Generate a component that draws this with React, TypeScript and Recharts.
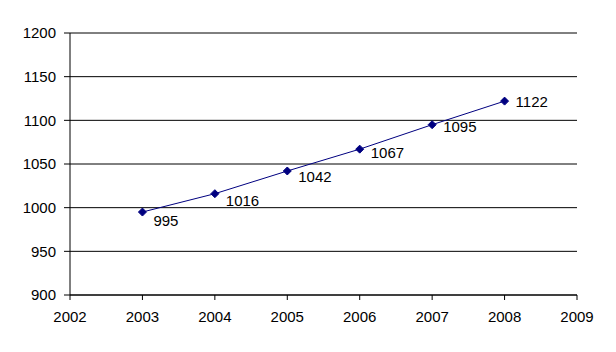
import React from "react";
import { LineChart, Line, XAxis, YAxis, CartesianGrid } from "recharts";

const years = [2003, 2004, 2005, 2006, 2007, 2008];
const values = [995, 1016, 1042, 1067, 1095, 1122];
const xTicks = [2002, 2003, 2004, 2005, 2006, 2007, 2008, 2009];
const yTicks = [900, 950, 1000, 1050, 1100, 1150, 1200];

const data = years.map((year, i) => ({ year, value: values[i] }));

const FONT = "'Liberation Sans', Arial, sans-serif";

function Diamond(props: any) {
  const { cx, cy } = props;
  if (cx == null || cy == null) return null;
  const r = 4;
  return (
    <path
      d={`M${cx},${cy - r} L${cx + r},${cy} L${cx},${cy + r} L${cx - r},${cy} Z`}
      fill="#000080"
      stroke="#000080"
    />
  );
}

function PointLabel(props: any) {
  const { x, y, value, index } = props;
  const dy = 9 - index * 1.8;
  return (
    <text
      x={x + 11}
      y={y + dy}
      dy="0.36em"
      fontSize={15}
      fontFamily={FONT}
      fill="#000"
    >
      {value}
    </text>
  );
}

export default function App() {
  return (
    <div style={{ position: "absolute", left: 0, top: 0, width: 616, height: 352, background: "#fff" }}>
      <LineChart
        width={616}
        height={352}
        data={data}
        margin={{ top: 33, right: 39, left: 0, bottom: 0 }}
      >
        <CartesianGrid vertical={false} stroke="#000" strokeOpacity={1} />
        <XAxis
          dataKey="year"
          type="number"
          domain={[2002, 2009]}
          ticks={xTicks}
          height={57}
          axisLine={{ stroke: "#000" }}
          tickLine={{ stroke: "#000" }}
          tickSize={5}
          tickMargin={11}
          tick={{ fill: "#000", fontSize: 15, fontFamily: FONT }}
          interval={0}
        />
        <YAxis
          type="number"
          domain={[900, 1200]}
          ticks={yTicks}
          width={70}
          axisLine={{ stroke: "#000" }}
          tickLine={{ stroke: "#000" }}
          tickSize={6}
          tickMargin={8}
          tick={{ fill: "#000", fontSize: 15, fontFamily: FONT }}
          interval={0}
        />
        <Line
          dataKey="value"
          stroke="#000080"
          strokeWidth={1}
          dot={<Diamond />}
          activeDot={false}
          label={<PointLabel />}
          isAnimationActive={false}
        />
      </LineChart>
    </div>
  );
}
